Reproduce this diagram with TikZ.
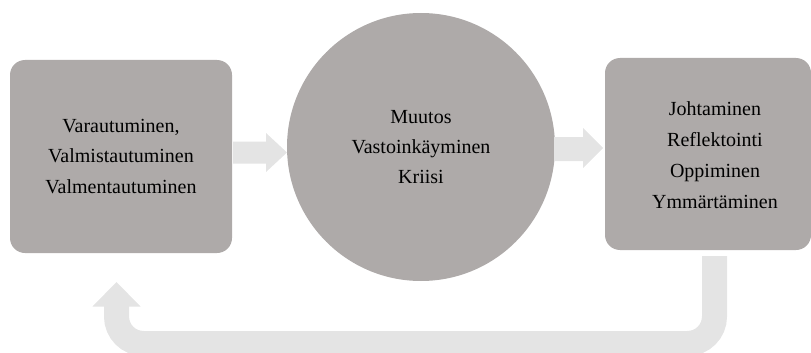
\documentclass[tikz,border=0pt]{standalone}
\usepackage{fontspec}
\setmainfont{Liberation Serif}
\definecolor{boxgrey}{RGB}{174,170,169}
\definecolor{arrowgrey}{RGB}{228,228,228}
\tikzset{
  stagebox/.style={fill=boxgrey, draw=none, rounded corners=15pt, inner sep=0pt, align=center,
    font=\fontsize{20pt}{30.5pt}\selectfont, text=black},
  stagecircle/.style={circle, fill=boxgrey, draw=none, inner sep=0pt, align=center,
    font=\fontsize{20pt}{30pt}\selectfont, text=black, minimum size=268pt},
  blockarrow/.style={fill=arrowgrey, draw=none},
  looparrow/.style={draw=arrowgrey, line width=25pt, rounded corners=27pt},
}
\begin{document}
\begin{tikzpicture}[x=1pt,y=-1pt]
\useasboundingbox (0,0) rectangle (811,353);
% boxes
\node[stagebox, minimum width=222pt, minimum height=193pt] (prep) at (121,156.5)
  {Varautuminen,\\Valmistautuminen\\Valmentautuminen};
\node[stagecircle] (crisis) at (421,147) {Muutos\\Vastoinkäyminen\\Kriisi};
\node[stagebox, minimum width=206pt, minimum height=192pt] (learn) at (708,154) {};
\node[font=\fontsize{20pt}{31pt}\selectfont, align=center, inner sep=0pt] (learntext) at (715,155)
  {Johtaminen\\Reflektointi\\Oppiminen\\Ymmärtäminen};
% forward arrows
\fill[blockarrow] (233,141.5) -- (266,141.5) -- (266,133) -- (287,152.5) -- (266,172) -- (266,163.5) -- (233,163.5) -- cycle;
\fill[blockarrow] (554,137) -- (583,137) -- (583,128) -- (603,148) -- (583,168) -- (583,161) -- (554,161) -- cycle;
% return loop
\coordinate (ls) at (714.5,256);
\coordinate (lc1) at (714.5,343.5);
\coordinate (lc2) at (116.5,343.5);
\coordinate (le) at (116.5,306);
\draw[looparrow] (ls) -- (lc1) -- (lc2) -- (le);
\coordinate (tip) at (116.5,282);
\fill[arrowgrey] (92.5,306.5) -- (tip) -- (140.5,306.5) -- cycle;
\end{tikzpicture}
\end{document}
